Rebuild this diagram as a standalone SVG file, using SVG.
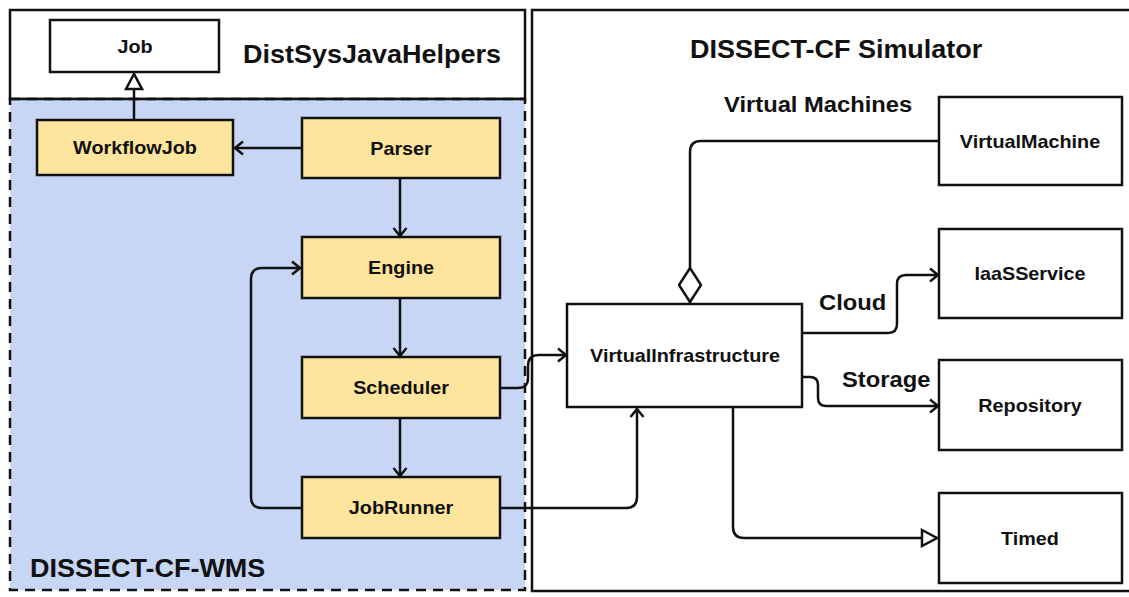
<svg xmlns="http://www.w3.org/2000/svg" width="1129" height="597" viewBox="0 0 1129 597">
<defs>
<style>
text{font-family:"Liberation Sans",Arial,sans-serif;font-weight:bold;fill:#111;}
.lbl{font-size:18px;text-anchor:middle;}
.title{font-size:25px;}
.sub{font-size:22px;}
.box{fill:#fff;stroke:#111;stroke-width:2.5;}
.ybox{fill:#fde59d;stroke:#111;stroke-width:2.5;}
.edge{fill:none;stroke:#111;stroke-width:2.5;}
</style>
<marker id="open" markerWidth="14" markerHeight="16" refX="11" refY="8" orient="auto" markerUnits="userSpaceOnUse">
<path d="M3,1.5 L11,8 L3,14.5" fill="none" stroke="#111" stroke-width="2.5"/>
</marker>
<marker id="tri" markerWidth="20" markerHeight="20" refX="17" refY="10" orient="auto" markerUnits="userSpaceOnUse">
<path d="M2,2 L17,10 L2,18 Z" fill="#fff" stroke="#111" stroke-width="2.5"/>
</marker>
<marker id="dia" markerWidth="36" markerHeight="24" refX="35" refY="12" orient="auto" markerUnits="userSpaceOnUse">
<path d="M1,12 L18,1 L35,12 L18,23 Z" fill="#fff" stroke="#111" stroke-width="2.5"/>
</marker>
</defs>

<g id="pkg-distsys">
<rect x="10" y="10" width="515" height="89" fill="#fff" stroke="#111" stroke-width="2.5"/>
<text class="title" transform="translate(243,63) scale(1.08,1)">DistSysJavaHelpers</text>
</g>
<g id="pkg-wms">
<rect x="10" y="99" width="515" height="491" fill="#c8d6f5" stroke="#111" stroke-width="2.5" stroke-dasharray="10,7"/>
<line x1="10" y1="99" x2="525" y2="99" stroke="#111" stroke-width="2.5"/>
<text class="title" transform="translate(30,577) scale(1.08,1)">DISSECT-CF-WMS</text>
</g>
<g id="pkg-sim">
<rect x="532" y="10" width="610" height="581" fill="#fff" stroke="#111" stroke-width="2.5"/>
<text class="title" transform="translate(690,58) scale(1.08,1)">DISSECT-CF Simulator</text>
<text class="sub" transform="translate(724,112) scale(1.08,1)">Virtual Machines</text>
</g>

<g id="connectors">
<path class="edge" d="M134,120 V74" marker-end="url(#tri)"/>
<path class="edge" d="M302,148 H235" marker-end="url(#open)"/>
<path class="edge" d="M400,178 V236" marker-end="url(#open)"/>
<path class="edge" d="M400,298 V356" marker-end="url(#open)"/>
<path class="edge" d="M400,418 V476" marker-end="url(#open)"/>
<path class="edge" d="M301,508 H262 q-11,0 -11,-11 V279 q0,-11 11,-11 H300" marker-end="url(#open)"/>
<path class="edge" d="M500,388 H518 q10,0 10,-10 V366 q0,-11 11,-11 H566" marker-end="url(#open)"/>
<path class="edge" d="M500,508 H626 q11,0 11,-11 V409" marker-end="url(#open)"/>
<path class="edge" d="M939,141 H701 q-11,0 -11,11 V268"/>
<path class="edge" d="M690,304 V268" marker-end="url(#dia)"/>
<path class="edge" d="M802,333 H888 q9,0 9,-9 V284 q0,-9 9,-9 H938" marker-end="url(#open)"/>
<path class="edge" d="M802,377 H810 q8,0 8,8 V398 q0,8 8,8 H938" marker-end="url(#open)"/>
<path class="edge" d="M733,407 V527 q0,11 11,11 H937" marker-end="url(#tri)"/>
<text class="sub" transform="translate(819,310) scale(1.08,1)">Cloud</text>
<text class="sub" transform="translate(842,387) scale(1.08,1)">Storage</text>
</g>

<g id="node-job"><rect class="box" x="50" y="20" width="169" height="52"/><text class="lbl" transform="translate(135,52.5) scale(1.1,1)">Job</text></g>
<g id="node-workflowjob"><rect class="ybox" x="37" y="120" width="196" height="55"/><text class="lbl" transform="translate(135,154) scale(1.1,1)">WorkflowJob</text></g>
<g id="node-parser"><rect class="ybox" x="302" y="118" width="198" height="60"/><text class="lbl" transform="translate(401,154.5) scale(1.1,1)">Parser</text></g>
<g id="node-engine"><rect class="ybox" x="302" y="237" width="198" height="61"/><text class="lbl" transform="translate(401,274) scale(1.1,1)">Engine</text></g>
<g id="node-scheduler"><rect class="ybox" x="302" y="357" width="198" height="61"/><text class="lbl" transform="translate(401,394) scale(1.1,1)">Scheduler</text></g>
<g id="node-jobrunner"><rect class="ybox" x="302" y="477" width="198" height="61"/><text class="lbl" transform="translate(401,514) scale(1.1,1)">JobRunner</text></g>
<g id="node-virtualinfrastructure"><rect class="box" x="567" y="304" width="235" height="103"/><text class="lbl" transform="translate(685,362) scale(1.1,1)">VirtualInfrastructure</text></g>
<g id="node-virtualmachine"><rect class="box" x="939" y="97" width="183" height="88"/><text class="lbl" transform="translate(1030,147.5) scale(1.1,1)">VirtualMachine</text></g>
<g id="node-iaasservice"><rect class="box" x="939" y="229" width="183" height="89"/><text class="lbl" transform="translate(1030,280) scale(1.1,1)">IaaSService</text></g>
<g id="node-repository"><rect class="box" x="939" y="360" width="183" height="90"/><text class="lbl" transform="translate(1030,411.5) scale(1.1,1)">Repository</text></g>
<g id="node-timed"><rect class="box" x="939" y="493" width="183" height="90"/><text class="lbl" transform="translate(1030,544.5) scale(1.1,1)">Timed</text></g>
</svg>
